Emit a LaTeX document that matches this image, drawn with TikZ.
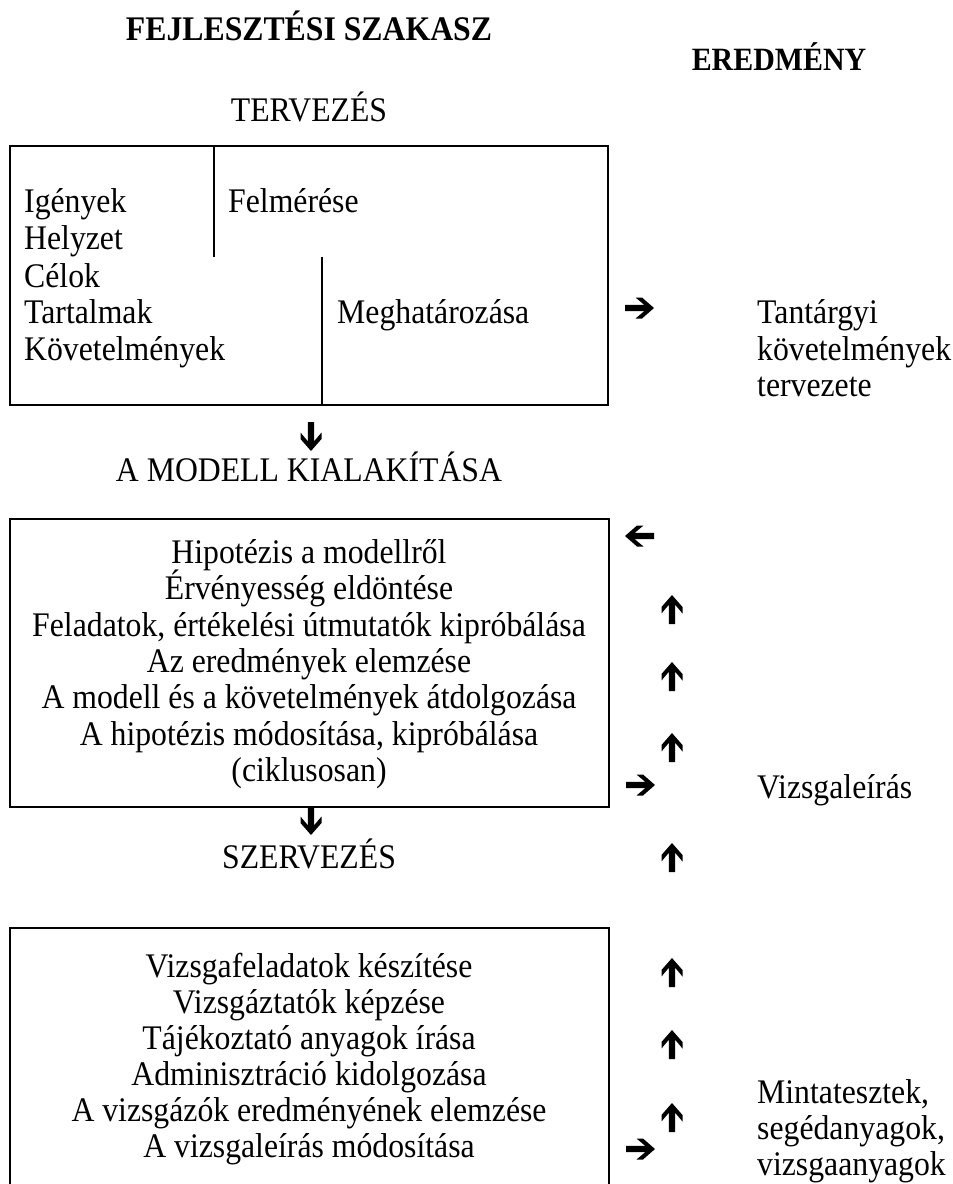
\documentclass[tikz,border=0pt]{standalone}
\usepackage{fontspec}
\setmainfont[FakeStretch=0.92]{Liberation Serif}
\begin{document}
\begin{tikzpicture}[x=1pt,y=-1pt,
  txt/.style={inner sep=0pt, anchor=base west, font=\fontsize{34.5}{40}\selectfont},
  ctxt/.style={txt, anchor=base},
  hdr/.style={inner sep=0pt, anchor=base, font=\bfseries\fontsize{34.5}{40}\selectfont},
  box/.style={draw, line width=1.8pt},
  wing/.pic={\fill (15,0) -- (3,-10.5) -- (-3.5,-10.5) -- (5.2,-3.2) -- (-14,-3.2) -- (-14,3.2) -- (5.2,3.2) -- (-3.5,10.5) -- (3,10.5) -- cycle;}
]
\useasboundingbox (0,0) rectangle (953,1184);

% headers
\node[hdr] (title) at (309,40) {FEJLESZTÉSI SZAKASZ};
\node[hdr, font=\bfseries\fontsize{32.5}{38}\selectfont] (result) at (779,70) {EREDMÉNY};
\node[ctxt] (plan) at (309,121) {TERVEZÉS};

% box 1
\draw[box] (10,146) rectangle (608,405);
\draw[box] (214,146) -- (214,257);
\draw[box] (322,257) -- (322,405);
\node[txt] (igeny) at (24,212) {Igények};
\node[txt] (helyzet) at (24,249) {Helyzet};
\node[txt] (celok) at (24,287) {Célok};
\node[txt] (tart) at (24,323) {Tartalmak};
\node[txt] (kov) at (24,360) {Követelmények};
\node[txt] (felm) at (228,212) {Felmérése};
\node[txt] (megh) at (337,323) {Meghatározása};
\node[txt] (r1a) at (757,323) {Tantárgyi};
\node[txt] (r1b) at (757,360) {követelmények};
\node[txt] (r1c) at (757,396) {tervezete};
\pic at (639,308) {wing};

% section 2
\pic[rotate=-90] at (311,436) {wing};
\node[ctxt] (model) at (309,481) {A MODELL KIALAKÍTÁSA};
\draw[box] (10,519) rectangle (609,807);
\node[ctxt] (m1) at (309,563) {Hipotézis a modellről};
\node[ctxt] (m2) at (309,599) {Érvényesség eldöntése};
\node[ctxt] (m3) at (309,636) {Feladatok, értékelési útmutatók kipróbálása};
\node[ctxt] (m4) at (309,672) {Az eredmények elemzése};
\node[ctxt] (m5) at (309,708) {A modell és a követelmények átdolgozása};
\node[ctxt] (m6) at (309,745) {A hipotézis módosítása, kipróbálása};
\node[ctxt] (m7) at (309,781) {(ciklusosan)};
\pic[rotate=180] at (640,536) {wing};
\pic[rotate=90] at (672,610) {wing};
\pic[rotate=90] at (672,677) {wing};
\pic[rotate=90] at (672,748) {wing};
\pic at (640,785) {wing};
\node[txt] (r2) at (757,798) {Vizsgaleírás};
\pic[rotate=90] at (672,858) {wing};

% section 3
\pic[rotate=-90] at (311,820) {wing};
\node[ctxt] (org) at (309,868) {SZERVEZÉS};
\draw[box] (10,1184) -- (10,928) -- (609,928) -- (609,1184);
\node[ctxt] (s1) at (309,977) {Vizsgafeladatok készítése};
\node[ctxt] (s2) at (309,1013) {Vizsgáztatók képzése};
\node[ctxt] (s3) at (309,1049) {Tájékoztató anyagok írása};
\node[ctxt] (s4) at (309,1085) {Adminisztráció kidolgozása};
\node[ctxt] (s5) at (309,1121) {A vizsgázók eredményének elemzése};
\node[ctxt] (s6) at (309,1157) {A vizsgaleírás módosítása};
\pic[rotate=90] at (672,973) {wing};
\pic[rotate=90] at (672,1045) {wing};
\pic[rotate=90] at (672,1118) {wing};
\pic at (640,1149) {wing};
\node[txt] (r3a) at (757,1103) {Mintatesztek,};
\node[txt] (r3b) at (757,1139) {segédanyagok,};
\node[txt] (r3c) at (757,1175) {vizsgaanyagok};
\end{tikzpicture}
\end{document}
